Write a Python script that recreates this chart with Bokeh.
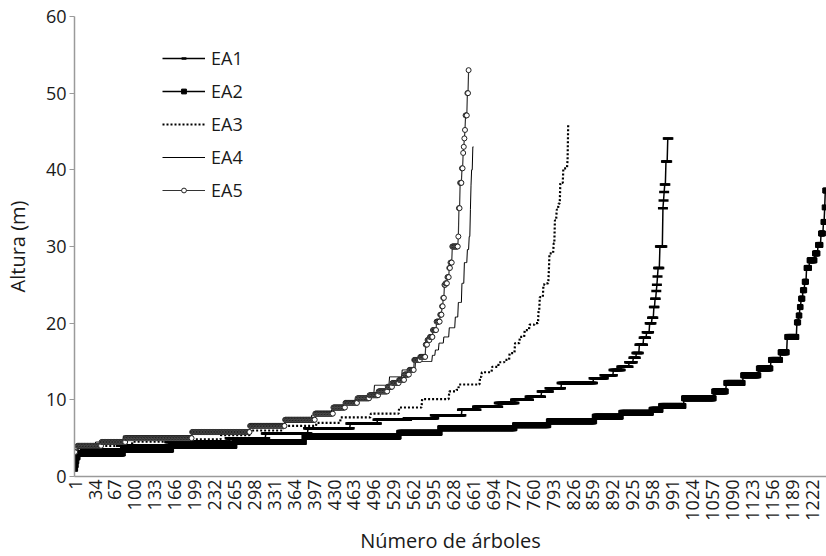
import numpy as np
from bokeh.plotting import figure
from bokeh.models import Range1d, FixedTicker, Legend, LegendItem, ColumnDataSource
from bokeh.embed import file_html
from bokeh.resources import INLINE

# ---- data: sorted tree heights per plot, as (height level, number of trees) ----
x_tick_labels = [1, 34, 67, 100, 133, 166, 199, 232, 265, 298, 331, 364, 397, 430,
                 463, 496, 529, 562, 595, 628, 661, 694, 727, 760, 793, 826, 859,
                 892, 925, 958, 991, 1024, 1057, 1090, 1123, 1156, 1189, 1222]
y_ticks = [0, 10, 20, 30, 40, 50, 60]

ea1_h = [2.5, 3.0, 3.5, 4.0, 4.5, 5.0, 5.6, 6.3, 6.9, 7.4, 7.6, 8.0, 8.7, 9.1, 9.6,
         10.0, 10.4, 11.1, 11.5, 12.2, 12.8, 13.2, 13.9, 14.3, 14.9, 15.5, 16.1, 17.2,
         18.1, 18.8, 20.0, 20.7, 22.1, 23.2, 24.2, 25.0, 26.1, 27.2, 30.0, 35.0, 36.0,
         37.1, 38.1, 41.1, 44.1]
ea1_n = [1, 15, 60, 80, 100, 60, 70, 70, 45, 50, 45, 45, 25, 36, 27,
         24, 20, 13, 20, 53, 18, 15, 13, 13, 7, 5, 5, 7,
         5, 5, 4, 3, 2, 2, 1, 1, 1, 3, 5, 1, 1,
         1, 2, 3, 2]

ea2_h = [1.0, 1.5, 2.0, 2.5, 3.0, 3.5, 4.0, 4.5, 5.2, 5.7, 6.3, 6.7, 7.2, 7.8, 8.3,
         8.7, 9.2, 10.2, 11.1, 12.2, 13.2, 14.1, 15.2, 16.2, 18.2, 20.1, 21.0, 22.1,
         23.2, 24.3, 25.4, 27.2, 28.2, 29.1, 30.2, 31.7, 33.2, 35.1, 37.3]
ea2_n = [1, 1, 1, 2, 75, 80, 105, 115, 157, 68, 124, 56, 76, 44, 50,
         16, 38, 50, 20, 28, 26, 20, 16, 11, 16, 3, 2, 2,
         3, 3, 3, 5, 9, 5, 5, 4, 2, 1, 2]

ea3_h = [2.5, 3.0, 3.5, 4.0, 4.55, 4.85, 5.4, 6.0, 6.6, 7.0, 7.7, 8.2, 9.0, 10.1,
         11.1, 11.3, 12.0, 13.0, 13.6, 14.3, 14.9, 15.2, 16.1, 17.4, 18.2, 19.1, 19.8,
         20.0, 21.7, 23.4, 25.0, 25.2, 26.9, 29.1, 30.4, 33.4, 34.8, 35.6, 38.3, 40.2,
         41.3, 45.9]
ea3_n = [1, 3, 34, 57, 75, 72, 48, 55, 55, 40, 50, 47, 38, 45,
         12, 4, 35, 3, 17, 11, 10, 8, 9, 8, 8, 8, 9,
         6, 2, 6, 2, 7, 1, 7, 2, 3, 3, 3, 5, 7,
         1, 2]

ea4_h = [2.8, 3.6, 4.1, 4.5, 5.3, 6.1, 6.9, 7.5, 8.0, 8.7, 9.3, 10.0, 10.8, 11.9,
         13.0, 13.9, 15.0, 15.8, 16.5, 17.4, 18.2, 19.4, 20.8, 22.7, 25.2, 27.9, 29.6,
         31.3, 34.8, 38.0, 40.0, 43.0]
ea4_n = [1, 2, 31, 46, 114, 96, 58, 44, 33, 17, 21, 22, 11, 25,
         21, 22, 28, 5, 6, 8, 9, 10, 5, 6, 4, 5, 3,
         2, 1, 1, 2, 2]

ea5_h = [3.2, 3.8, 4.0, 4.5, 5.0, 5.8, 6.6, 7.4, 8.2, 9.0, 9.6, 10.2, 10.6, 11.1,
         11.7, 12.2, 12.6, 13.3, 13.9, 15.2, 15.6, 17.2, 17.8, 18.2, 19.1, 20.2, 21.1,
         22.2, 23.3, 25.0, 25.2, 26.0, 27.2, 27.9, 30.0, 31.3, 35.0, 38.3, 40.2, 42.2,
         43.0, 44.1, 45.2, 47.1, 50.0, 53.0]
ea5_n = [1, 3, 40, 40, 110, 96, 58, 50, 30, 20, 20, 20, 15, 15,
         8, 11, 9, 8, 8, 10, 9, 3, 4, 5, 6, 6, 3,
         2, 2, 2, 3, 3, 2, 3, 10, 1, 2, 3, 2, 1,
         1, 1, 1, 3, 2, 1]

FONT = "Open Sans"


def expand(levels, counts):
    h = np.repeat(np.array(levels, dtype=float), np.array(counts, dtype=int))
    return ColumnDataSource(dict(x=np.arange(1, len(h) + 1), y=h))


p = figure(width=826, height=556, output_backend="svg", toolbar_location=None,
           x_range=Range1d(0, 1246), y_range=Range1d(0, 60),
           min_border_left=71, min_border_right=0, min_border_top=16,
           min_border_bottom=79)
p.outline_line_color = None
p.xgrid.visible = False
p.ygrid.visible = False
p.background_fill_color = "white"

# axes
p.yaxis.ticker = FixedTicker(ticks=y_ticks)
p.xaxis.ticker = FixedTicker(ticks=x_tick_labels)
for ax in (p.xaxis[0], p.yaxis[0]):
    ax.axis_line_color = "#9a9a9a"
    ax.axis_line_width = 1.5
    ax.major_label_text_font = FONT
    ax.major_label_text_font_size = "18px"
    ax.major_label_text_color = "#1a1a1a"
    ax.axis_label_text_font = FONT
    ax.axis_label_text_font_size = "20px"
    ax.axis_label_text_font_style = "normal"
    ax.axis_label_text_color = "#1a1a1a"
    ax.minor_tick_line_color = None

p.yaxis.major_tick_line_color = "#9a9a9a"
p.yaxis.major_tick_out = 5
p.yaxis.major_tick_in = 0
p.yaxis.major_label_standoff = 3
p.yaxis.axis_label = "Altura (m)"
p.yaxis.axis_label_standoff = 12

p.xaxis.major_tick_line_color = None
p.xaxis.major_tick_out = 0
p.xaxis.major_tick_in = 0
p.xaxis.major_label_orientation = np.pi / 2
p.xaxis.major_label_standoff = 3
p.xaxis.axis_label = "Número de árboles"
p.xaxis.axis_label_standoff = 3

s1, s2, s3, s4, s5 = (expand(ea1_h, ea1_n), expand(ea2_h, ea2_n), expand(ea3_h, ea3_n),
                      expand(ea4_h, ea4_n), expand(ea5_h, ea5_n))

l1 = p.line("x", "y", source=s1, line_color="black", line_width=1.5)
m1 = p.scatter("x", "y", source=s1, marker="dash", size=10, line_color="black", line_width=2.5)

l2 = p.line("x", "y", source=s2, line_color="black", line_width=1.5)
m2 = p.scatter("x", "y", source=s2, marker="square", size=5, line_color="black",
               fill_color="black", line_width=1)

l3 = p.line("x", "y", source=s3, line_color="black", line_width=2.2, line_dash="2 2")

l4 = p.line("x", "y", source=s4, line_color="black", line_width=1)

l5 = p.line("x", "y", source=s5, line_color="#333333", line_width=1.2)
m5 = p.scatter("x", "y", source=s5, marker="circle", size=5, line_color="#222222",
               fill_color="white", line_width=1)

legend = Legend(items=[
    LegendItem(label="EA1", renderers=[l1, m1]),
    LegendItem(label="EA2", renderers=[l2, m2]),
    LegendItem(label="EA3", renderers=[l3]),
    LegendItem(label="EA4", renderers=[l4]),
    LegendItem(label="EA5", renderers=[l5, m5]),
], location=(88, 274))
legend.glyph_width = 43
legend.glyph_height = 12
legend.label_height = 20
legend.spacing = 9
legend.padding = 0
legend.margin = 0
legend.label_standoff = 6
legend.border_line_color = None
legend.background_fill_alpha = 0
legend.label_text_font = FONT
legend.label_text_font_size = "18px"
legend.label_text_color = "#1a1a1a"
legend.label_text_baseline = "middle"
p.add_layout(legend, "center")

open("out.html", "w").write(file_html(p, INLINE))
